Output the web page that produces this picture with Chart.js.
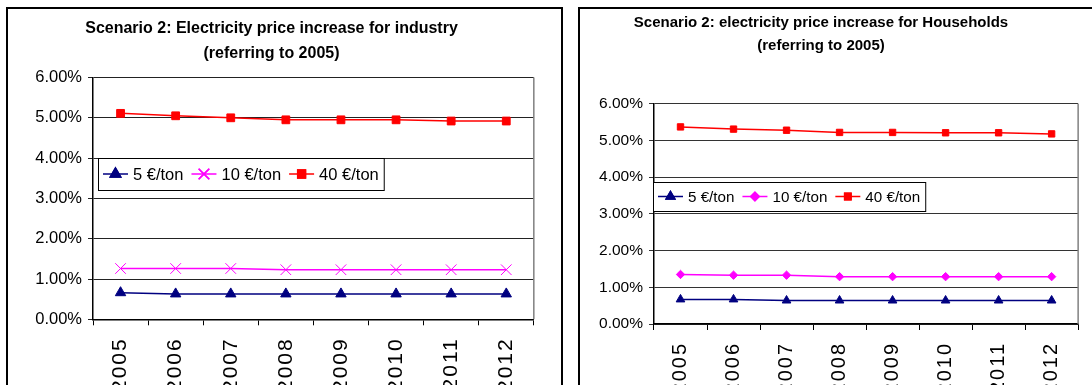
<!DOCTYPE html>
<html>
<head>
<meta charset="utf-8">
<script src="https://cdn.jsdelivr.net/npm/chart.js@4.4.1/dist/chart.umd.min.js"></script>
<style>
  html, body { margin: 0; padding: 0; background: #fff; width: 1092px; height: 385px; overflow: hidden; }
  .panel { position: absolute; border: 2px solid #000; box-sizing: border-box; }
  .panel-industry { left: 6px; top: 7px; width: 557px; height: 500px; }
  .panel-households { left: 578px; top: 7px; width: 600px; height: 500px; }
  canvas { position: absolute; top: 0; }
  #industry-chart { left: 0; }
  #households-chart { left: 556px; }
</style>
</head>
<body>
<div class="panel panel-industry"></div>
<div class="panel panel-households"></div>
<canvas id="industry-chart" width="544" height="440"></canvas>
<canvas id="households-chart" width="532" height="440"></canvas>
<script>
// Years on the category axis
const years = ['2005', '2006', '2007', '2008', '2009', '2010', '2011', '2012']
const seriesNames = ['5 €/ton', '10 €/ton', '40 €/ton']

// Price increase (%) for industry
const industry5 = [0.66, 0.63, 0.63, 0.63, 0.63, 0.63, 0.63, 0.63]
const industry10 = [1.26, 1.26, 1.26, 1.23, 1.23, 1.23, 1.23, 1.23]
const industry40 = [5.11, 5.05, 5.00, 4.95, 4.95, 4.95, 4.92, 4.92]

// Price increase (%) for households
const households5 = [0.67, 0.67, 0.64, 0.64, 0.64, 0.64, 0.64, 0.64]
const households10 = [1.35, 1.33, 1.33, 1.29, 1.29, 1.29, 1.29, 1.29]
const households40 = [5.37, 5.31, 5.28, 5.22, 5.22, 5.21, 5.21, 5.18]

const FONT = "'Liberation Sans', Arial, sans-serif"

// Legend box drawn inside the plot area
const boxLegend = {
  id: 'boxLegend',
  afterDatasetsDraw(chart, args, opts) {
    const ctx = chart.ctx
    const pad = 5
    const lineLen = 25
    const textGap = 5
    const itemGap = 8
    ctx.save()
    ctx.font = `${opts.fontSize}px ${FONT}`
    let w = pad * 2 - itemGap
    chart.data.datasets.forEach((ds) => {
      w += lineLen + textGap + ctx.measureText(ds.label).width + itemGap
    })
    const x0 = opts.x
    const y0 = opts.y
    const midY = y0 + opts.height / 2
    ctx.fillStyle = '#fff'
    ctx.fillRect(x0, y0, w, opts.height)
    ctx.strokeStyle = '#000'
    ctx.lineWidth = 1
    ctx.strokeRect(x0 + 0.5, y0 + 0.5, w, opts.height)

    let x = x0 + pad
    chart.data.datasets.forEach((ds) => {
      ctx.strokeStyle = ds.borderColor
      ctx.lineWidth = ds.borderWidth
      ctx.beginPath()
      ctx.moveTo(x, midY)
      ctx.lineTo(x + lineLen, midY)
      ctx.stroke()
      Chart.helpers.drawPoint(ctx, {
        pointStyle: ds.pointStyle,
        radius: ds.pointRadius,
        borderWidth: 1,
        rotation: 0
      }, x + lineLen / 2, midY)
      ctx.fillStyle = ds.borderColor
      ctx.strokeStyle = ds.borderColor
      ctx.fill()
      ctx.stroke()
      x += lineLen + textGap
      ctx.fillStyle = '#000'
      ctx.textBaseline = 'middle'
      ctx.fillText(ds.label, x, midY + 1)
      x += ctx.measureText(ds.label).width + itemGap
    })
    ctx.restore()
  }
}

// Gray frame line on the right side of the plot
const plotFrame = {
  id: 'plotFrame',
  beforeDatasetsDraw(chart) {
    const { ctx, chartArea } = chart
    ctx.save()
    ctx.strokeStyle = '#808080'
    ctx.lineWidth = 1.5
    ctx.beginPath()
    ctx.moveTo(chartArea.right, chartArea.top)
    ctx.lineTo(chartArea.right, chartArea.bottom)
    ctx.stroke()
    ctx.restore()
  }
}

// Wider letter spacing on the rotated year labels
const spacedYears = {
  id: 'spacedYears',
  beforeDraw(chart, args, opts) {
    const xScale = chart.scales.x
    if (xScale._spaced) return
    const drawLabels = xScale.drawLabels
    xScale.drawLabels = function (area) {
      this.ctx.save()
      this.ctx.letterSpacing = opts.spacing + 'px'
      drawLabels.call(this, area)
      this.ctx.restore()
    }
    xScale._spaced = true
  }
}

function makeDatasets(s5, s10, s40, sizes) {
  return [
    {
      label: seriesNames[0],
      data: s5,
      borderColor: '#000080',
      backgroundColor: '#000080',
      pointStyle: 'triangle',
      pointRadius: sizes[0]
    },
    {
      label: seriesNames[1],
      data: s10,
      borderColor: '#ff00ff',
      backgroundColor: '#ff00ff',
      pointStyle: sizes[3],
      pointRadius: sizes[1]
    },
    {
      label: seriesNames[2],
      data: s40,
      borderColor: '#ff0000',
      backgroundColor: '#ff0000',
      pointStyle: 'rect',
      pointRadius: sizes[2]
    }
  ].map((ds) => ({
    ...ds,
    borderWidth: 1.5,
    pointBorderWidth: 1,
    pointHoverRadius: ds.pointRadius,
    tension: 0
  }))
}

function makeChart(el, cfg) {
  return new Chart(el, {
    type: 'line',
    data: {
      labels: years,
      datasets: makeDatasets(cfg.s5, cfg.s10, cfg.s40, cfg.sizes)
    },
    plugins: [plotFrame, boxLegend, spacedYears],
    options: {
      responsive: false,
      animation: false,
      layout: { padding: { left: 0, right: cfg.padRight, top: 0, bottom: 0 } },
      plugins: {
        legend: { display: false },
        tooltip: { enabled: false },
        title: {
          display: true,
          text: cfg.title,
          color: '#000',
          font: { family: FONT, size: cfg.titleSize, weight: 'bold', lineHeight: cfg.titleLine },
          padding: cfg.titlePad
        },
        boxLegend: cfg.legend,
        spacedYears: { spacing: cfg.yearSpacing }
      },
      scales: {
        x: {
          offset: true,
          afterFit: (scale) => { scale.height = cfg.xHeight },
          grid: {
            offset: true,
            drawOnChartArea: false,
            drawTicks: true,
            tickLength: 6,
            color: '#000'
          },
          border: { color: '#000', width: 1.5 },
          ticks: {
            minRotation: 90,
            maxRotation: 90,
            autoSkip: false,
            padding: cfg.yearPad,
            color: '#000',
            font: { family: FONT, size: cfg.yearSize }
          }
        },
        y: {
          min: 0,
          max: 6,
          afterFit: (scale) => { scale.width = cfg.yWidth },
          grid: {
            color: cfg.gridColor,
            lineWidth: 1,
            tickLength: 5
          },
          border: { color: '#000', width: 1.5 },
          ticks: {
            stepSize: 1,
            padding: 6,
            color: '#000',
            font: { family: FONT, size: cfg.tickSize },
            callback: (value) => value.toFixed(2) + '%'
          }
        }
      }
    }
  })
}

// Industry chart
makeChart(document.querySelector('#industry-chart'), {
  s5: industry5,
  s10: industry10,
  s40: industry40,
  sizes: [6, 7.5, 5.5, 'crossRot'],
  title: ['Scenario 2: Electricity price increase for industry', '(referring to 2005)'],
  titleSize: 16,
  titleLine: 1.6,
  titlePad: { top: 15.5, bottom: 10.8 },
  padRight: 1,
  yWidth: 93,
  xHeight: 120.7,
  tickSize: 16.5,
  yearSize: 21,
  yearSpacing: 2,
  yearPad: 12,
  gridColor: '#222',
  legend: { x: 98, y: 158, height: 32, fontSize: 16.5 }
})

// Households chart
makeChart(document.querySelector('#households-chart'), {
  s5: households5,
  s10: households10,
  s40: households40,
  sizes: [5, 4.2, 4.5, 'rectRot'],
  title: ['Scenario 2: electricity price increase for Households', '(referring to 2005)'],
  titleSize: 15,
  titleLine: 1.533,
  titlePad: { top: 11, bottom: 46.8 },
  padRight: 2,
  yWidth: 98,
  xHeight: 116,
  tickSize: 15.5,
  yearSize: 20,
  yearSpacing: 2,
  yearPad: 12,
  gridColor: '#333',
  legend: { x: 97, y: 182, height: 29, fontSize: 15.2 }
})
</script>
</body>
</html>
